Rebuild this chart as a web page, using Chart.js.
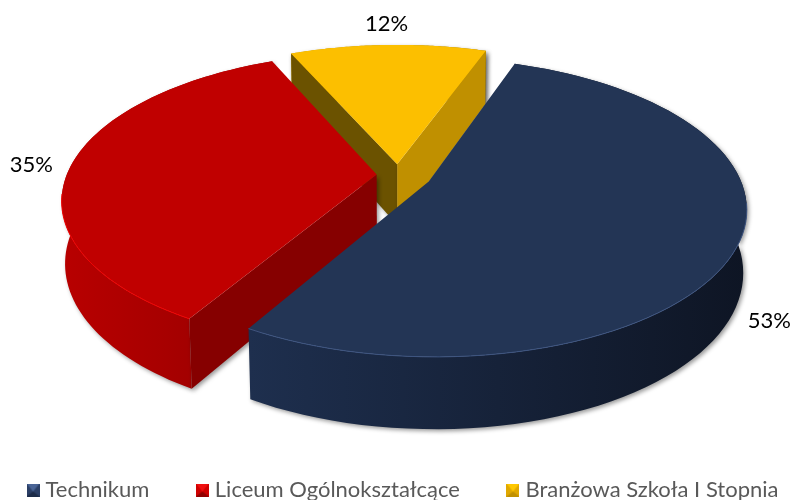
<!DOCTYPE html>
<html lang="pl">
<head>
<meta charset="utf-8">
<title>Wybór szkoły</title>
<script src="https://cdn.jsdelivr.net/npm/chart.js@4"></script>
<style>
  html, body { margin: 0; padding: 0; background: #fff; }
  #wrap { width: 791px; height: 500px; }
</style>
</head>
<body>
<div id="wrap"><canvas id="chart"></canvas></div>
<script>
// ================================
// Data
// ================================
const categories = ["Technikum", "Liceum Ogólnokształcące", "Branżowa Szkoła I Stopnia"];
const shares = [53, 35, 12];
const percentLabels = ["53%", "35%", "12%"];

// ================================
// Colours
// ================================
const topColors = ["#233555", "#c00000", "#fcbf00"];
const startWallColors = ["#1a2840", "#860000", "#6b5200"];
const endWallColors = ["#1a2840", "#860000", "#c09000"];
const rimLight = ["#1e2f4e", "#b80000", "#d8a400"];
const rimDark = ["#0e1524", "#960000", "#a07a00"];
const edgeColors = ["#3d5480", "#f00000", "#ffd040"];

// Exploded distance of each slice, px in the library's own pie
const explode = [22, 14, 15.5];

// ================================
// View of the tilted disc
// ================================
const VIEW = { cx: 398, cy: 175, rx: 310, ry: 143, depth: 62, persp: 0.17, sink: 0.01 };

function project(u, v, z) {
  const w = 1 - VIEW.persp * v + VIEW.sink * z;
  return [VIEW.cx + VIEW.rx * u / w, VIEW.cy + (VIEW.ry * v + VIEW.depth * z) / w];
}

function tracePolygon(ctx, pts) {
  ctx.beginPath();
  pts.forEach((p, i) => (i ? ctx.lineTo(p[0], p[1]) : ctx.moveTo(p[0], p[1])));
  ctx.closePath();
}

// true when a cut face under the edge a-b can be seen from above
function wallVisible(a, b, inside) {
  const dx = b[0] - a[0];
  const dy = b[1] - a[1];
  const sideInside = dx * (inside[1] - a[1]) - dy * (inside[0] - a[0]);
  const sideDown = dx;
  return sideInside * sideDown < 0;
}

// radial reach and drop of each percent label, in disc units
const labelReach = [1.11, 1.13, 1.21];
const labelDrop = [0.98, 0, 0];

// ================================
// Plugin: draws the library's arcs as a 3D exploded pie
// ================================
const pie3d = {
  id: "pie3d",
  beforeDatasetsDraw(chart) {
    const ctx = chart.ctx;
    const arcs = chart.getDatasetMeta(0).data;

    // back slices first
    [2, 1, 0].forEach(i => {
      const arc = arcs[i];
      const e = arc.options.offset / arc.outerRadius;
      const mid = (arc.startAngle + arc.endAngle) / 2;
      const ox = e * Math.cos(mid);
      const oy = e * Math.sin(mid);

      const rim = [];
      const steps = 80;
      for (let s = 0; s <= steps; s++) {
        const t = arc.startAngle + (arc.endAngle - arc.startAngle) * s / steps;
        rim.push([ox + Math.cos(t), oy + Math.sin(t)]);
      }
      const apex = project(ox, oy, 0);
      const topEdge = rim.map(p => project(p[0], p[1], 0));
      const bottomEdge = rim.map(p => project(p[0], p[1], 1));
      const inside = topEdge[steps / 2];

      ctx.save();
      ctx.shadowColor = "rgba(0,0,0,0.4)";
      ctx.shadowBlur = 4;
      ctx.shadowOffsetX = 2;
      ctx.shadowOffsetY = 2;

      // outer wall
      const xs = topEdge.map(p => p[0]);
      const grad = ctx.createLinearGradient(Math.min(...xs), 0, Math.max(...xs), 0);
      grad.addColorStop(0, rimLight[i]);
      grad.addColorStop(1, rimDark[i]);
      ctx.fillStyle = grad;
      tracePolygon(ctx, topEdge.concat(bottomEdge.slice().reverse()));
      ctx.fill();

      // radial cut faces, only those turned to the viewer
      if (wallVisible(apex, topEdge[0], inside)) {
        ctx.fillStyle = startWallColors[i];
        tracePolygon(ctx, [apex, topEdge[0], bottomEdge[0], project(ox, oy, 1)]);
        ctx.fill();
      }
      if (wallVisible(apex, topEdge[steps], inside)) {
        ctx.fillStyle = endWallColors[i];
        tracePolygon(ctx, [apex, topEdge[steps], bottomEdge[steps], project(ox, oy, 1)]);
        ctx.fill();
      }
      ctx.restore();

      // top face
      ctx.fillStyle = topColors[i];
      tracePolygon(ctx, [apex].concat(topEdge));
      ctx.fill();

      // thin highlight on the front edge
      ctx.strokeStyle = edgeColors[i];
      ctx.lineWidth = 1;
      ctx.beginPath();
      let started = false;
      rim.forEach((p, s) => {
        if (Math.sin(arc.startAngle + (arc.endAngle - arc.startAngle) * s / steps) < 0.12) return;
        const q = topEdge[s];
        if (started) ctx.lineTo(q[0], q[1]);
        else ctx.moveTo(q[0], q[1]);
        started = true;
      });
      ctx.stroke();
    });

    // percent labels
    ctx.fillStyle = "#000";
    ctx.font = "22px Lato";
    ctx.textAlign = "center";
    ctx.textBaseline = "middle";
    arcs.forEach((arc, i) => {
      const e = arc.options.offset / arc.outerRadius;
      const mid = (arc.startAngle + arc.endAngle) / 2;
      const r = e + labelReach[i];
      const p = project(r * Math.cos(mid), r * Math.sin(mid), labelDrop[i]);
      ctx.fillText(percentLabels[i], p[0], p[1]);
    });

    return false; // library's flat arcs are replaced by the above
  }
};

// ================================
// Legend markers (small bevelled squares)
// ================================
function legendMarker(side, light, dark) {
  const c = document.createElement("canvas");
  c.width = 13;
  c.height = 13;
  const g = c.getContext("2d");
  g.fillStyle = side;
  g.fillRect(0, 0, 13, 13);
  g.fillStyle = light;
  tracePolygon(g, [[0, 0], [13, 0], [6.5, 8]]);
  g.fill();
  g.fillStyle = dark;
  tracePolygon(g, [[0, 13], [13, 13], [6.5, 8]]);
  g.fill();
  return c;
}

const markers = [
  legendMarker("#2b3f66", "#4a6496", "#1c2b48"),
  legendMarker("#d00000", "#f01010", "#900000"),
  legendMarker("#e0a800", "#ffc800", "#c09000")
];

// ================================
// Chart
// ================================
new Chart(document.getElementById("chart"), {
  type: "pie",
  data: {
    labels: categories,
    datasets: [{
      data: shares,
      backgroundColor: topColors,
      offset: explode,
      borderWidth: 0
    }]
  },
  options: {
    responsive: true,
    maintainAspectRatio: false,
    animation: false,
    rotation: 19.6,
    layout: { padding: { left: -37, right: -56, bottom: -11 } },
    plugins: {
      tooltip: { enabled: false },
      legend: {
        position: "bottom",
        labels: {
          usePointStyle: true,
          pointStyleWidth: 3,
          padding: 51.5,
          color: "#595959",
          font: { family: "Lato", size: 22 },
          generateLabels: chart => categories.map((name, i) => ({
            text: name,
            pointStyle: markers[i],
            fontColor: "#595959",
            fillStyle: topColors[i],
            strokeStyle: topColors[i],
            lineWidth: 0,
            hidden: false,
            index: i
          }))
        }
      }
    }
  },
  plugins: [pie3d]
});
</script>
</body>
</html>
